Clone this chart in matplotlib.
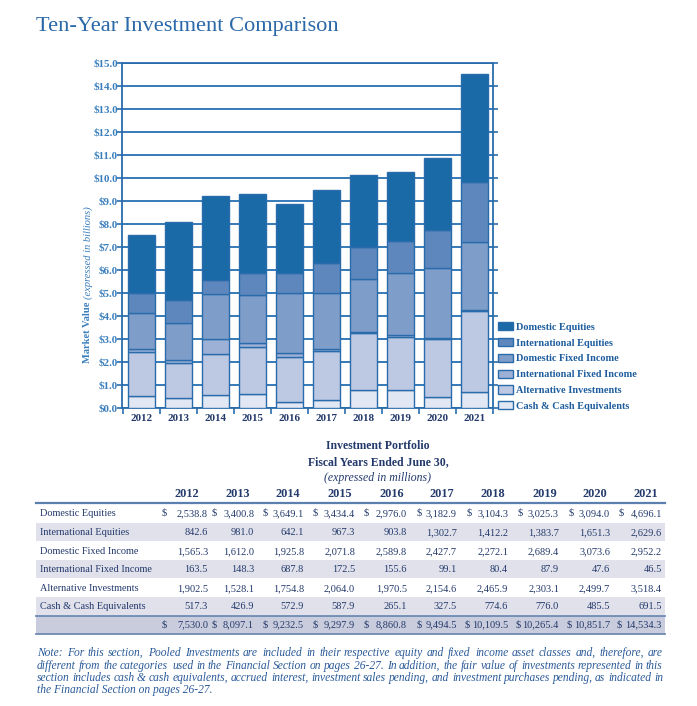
import matplotlib
matplotlib.use("Agg")
import matplotlib.pyplot as plt
from matplotlib.patches import Rectangle, Patch
from matplotlib.lines import Line2D
import numpy as np

years = ["2012", "2013", "2014", "2015", "2016", "2017", "2018", "2019", "2020", "2021"]
categories = ["Domestic Equities", "International Equities", "Domestic Fixed Income",
              "International Fixed Income", "Alternative Investments", "Cash & Cash Equivalents"]
domestic_equities = [2538.8, 3400.8, 3649.1, 3434.4, 2976.0, 3182.9, 3104.3, 3025.3, 3094.0, 4696.1]
international_equities = [842.6, 981.0, 642.1, 967.3, 903.8, 1302.7, 1412.2, 1383.7, 1651.3, 2629.6]
domestic_fixed_income = [1565.3, 1612.0, 1925.8, 2071.8, 2589.8, 2427.7, 2272.1, 2689.4, 3073.6, 2952.2]
international_fixed_income = [163.5, 148.3, 687.8, 172.5, 155.6, 99.1, 80.4, 87.9, 47.6, 46.5]
alternative_investments = [1902.5, 1528.1, 1754.8, 2064.0, 1970.5, 2154.6, 2465.9, 2303.1, 2499.7, 3518.4]
cash_equivalents = [517.3, 426.9, 572.9, 587.9, 265.1, 327.5, 774.6, 776.0, 485.5, 691.5]
totals = [7530.0, 8097.1, 9232.5, 9297.9, 8860.8, 9494.5, 10109.5, 10265.4, 10851.7, 14534.3]
y_ticks = [0, 1, 2, 3, 4, 5, 6, 7, 8, 9, 10, 11, 12, 13, 14, 15]

series = [domestic_equities, international_equities, domestic_fixed_income,
          international_fixed_income, alternative_investments, cash_equivalents]
colors = ["#1b6aa8", "#5d87bd", "#7f9dc9", "#9db1d7", "#bdc9e3", "#e1e7f3"]
edge = "#2a6cab"
blue_text = "#3a7fbd"
navy = "#23396b"

W, H = 697, 706
fig = plt.figure(figsize=(W / 100, H / 100), dpi=100)

def fx(px):
    return px / W

def fy(py):
    return 1 - py / H

serif = "Liberation Serif"

# Title
fig.text(fx(36), fy(27), "Ten-Year Investment Comparison", fontsize=16.1, family=serif,
         color="#2a68a8", ha="left", va="center")

# Chart axes
ax = fig.add_axes([fx(122), fy(408), fx(493) - fx(122), (408 - 63) / H])
x = np.arange(len(years))
bottom = np.zeros(len(years))
for vals, col in zip(series[::-1], colors[::-1]):
    v = np.array(vals) / 1000.0
    ax.bar(x, v, width=0.73, bottom=bottom, color=col, edgecolor=edge, linewidth=1.0, zorder=3)
    bottom += v

ax.set_ylim(0, 15)
ax.set_xlim(-0.54, 9.49)
ax.set_yticks(y_ticks)
ax.set_yticklabels([f"${t:.1f}" for t in y_ticks], family=serif, fontweight="bold",
                   fontsize=7.9, color=blue_text)
ax.set_xticks(x)
ax.set_xticklabels(years, family=serif, fontweight="bold", fontsize=7.9, color=navy)
ax.set_xticks(np.arange(-0.5, 9.6, 1.0), minor=True)
ax.tick_params(axis="x", which="major", length=0, pad=4)
ax.tick_params(axis="x", which="minor", length=4, color=edge, width=1.2, direction="out")
ax.tick_params(axis="y", which="major", length=3.5, color=edge, width=1.2, direction="out",
               right=True, pad=-0.5)
ax.yaxis.grid(True, color="#2570b2", linewidth=1.3, zorder=0)
ax.set_axisbelow(True)
for s in ax.spines.values():
    s.set_color(edge)
    s.set_linewidth(1.3)

# Y label: bold + italic parts
lab1 = fig.text(fx(88), fy(363), "Market Value", rotation=90, rotation_mode="anchor",
                ha="left", va="center", family=serif, fontweight="bold", fontsize=7.6,
                color=blue_text)
fig.canvas.draw()
renderer = fig.canvas.get_renderer()
bb = lab1.get_window_extent(renderer)
top_px = H - bb.y1
fig.text(fx(88), fy(top_px - 3), "(expressed in billions)", rotation=90, rotation_mode="anchor",
         ha="left", va="center", family=serif, style="italic", fontsize=7.6, color=blue_text)

# Legend
handles = [Patch(facecolor=c, edgecolor=edge, linewidth=1.0) for c in colors]
leg = fig.legend(handles, categories, loc="lower left",
                 bbox_to_anchor=(fx(496), fy(413)), frameon=False,
                 prop={"family": serif, "weight": "bold", "size": 7.4},
                 handlelength=1.45, handleheight=0.85, handletextpad=0.25,
                 labelspacing=0.6, borderaxespad=0, borderpad=0.2)
for t in leg.get_texts():
    t.set_color("#1d5d9e")

# Table
fig.text(fx(378), fy(446), "Investment Portfolio", family=serif, fontweight="bold",
         fontsize=8.5, color=navy, ha="center", va="center")
fig.text(fx(378), fy(462), "Fiscal Years Ended June 30,", family=serif, fontweight="bold",
         fontsize=8.5, color=navy, ha="center", va="center")
fig.text(fx(378), fy(478), "(expressed in millions)", family=serif, style="italic",
         fontsize=8.5, color=navy, ha="center", va="center")

col_ends = [208, 254, 304, 355, 407, 457, 508, 559, 610, 662]
dollar_x = [162, 212, 263, 313, 364, 417, 467, 518, 569, 619]
year_centers = [187, 238, 288, 340, 392, 442, 493, 545, 595, 646]
for yc, yr in zip(year_centers, years):
    fig.text(fx(yc), fy(494), yr, family=serif, fontweight="bold", fontsize=8.8,
             color=navy, ha="center", va="center")

tab_left, tab_right = 36, 665
fig.add_artist(Line2D([fx(tab_left), fx(tab_right)], [fy(503), fy(503)],
                      color="#5b7fae", linewidth=1.6))

num_fs = 7.5
base_off = 3  # baseline offset below row centre, px
row_h = 18.5
row_y = [513, 532, 551, 569, 588, 606]
for i, (name, vals, yc) in enumerate(zip(categories, series, row_y)):
    if i % 2 == 1:
        fig.add_artist(Rectangle((fx(tab_left), fy(yc + row_h / 2)), fx(tab_right) - fx(tab_left),
                                 row_h / H, facecolor="#e0e1eb", edgecolor="none", zorder=0))
    yb = fy(yc + base_off)
    fig.text(fx(40), yb, name, family=serif, fontsize=7.4, color=navy,
             ha="left", va="baseline")
    for j, v in enumerate(vals):
        fig.text(fx(col_ends[j]), yb, f"{v:,.1f}", family=serif, fontsize=num_fs,
                 color=navy, ha="right", va="baseline")
        if i == 0:
            fig.text(fx(dollar_x[j]), yb, "$", family=serif, fontsize=num_fs,
                     color=navy, ha="left", va="baseline")

# Totals row
ty = 624
fig.add_artist(Rectangle((fx(tab_left), fy(634)), fx(tab_right) - fx(tab_left),
                         18 / H, facecolor="#c9ccdc", edgecolor="none", zorder=0))
for yl in (616, 634):
    fig.add_artist(Line2D([fx(tab_left), fx(tab_right)], [fy(yl), fy(yl)],
                          color="#6d8ab3", linewidth=1.3))
for j, v in enumerate(totals):
    fig.text(fx(col_ends[j]), fy(ty + base_off), f"{v:,.1f}", family=serif, fontsize=num_fs,
             color=navy, ha="right", va="baseline")
    fig.text(fx(dollar_x[j] - (2 if v >= 10000 else 0)), fy(ty + base_off), "$", family=serif,
             fontsize=num_fs, color=navy, ha="left", va="baseline")

# Note (justified lines)
note_lines = [
    "Note: For this section, Pooled Investments are included in their respective equity and fixed income asset classes and, therefore, are",
    "different from the categories used in the Financial Section on pages 26-27. In addition, the fair value of investments represented in this",
    "section includes cash & cash equivalents, accrued interest, investment sales pending, and investment purchases pending, as indicated in",
    "the Financial Section on pages 26-27.",
]
note_base = [656, 669, 681, 693]
note_kw = dict(family=serif, style="italic", fontsize=8.3, color="#2a5a98", va="baseline")
left_px, right_px = 37, 663
for k, line in enumerate(note_lines):
    ypos = fy(note_base[k])
    if k == len(note_lines) - 1:
        fig.text(fx(left_px), ypos, line, ha="left", **note_kw)
        continue
    words = line.split(" ")
    arts = [fig.text(0, ypos, w_, ha="left", **note_kw) for w_ in words]
    widths = [a.get_window_extent(renderer).width for a in arts]
    gap = (right_px - left_px - sum(widths)) / (len(words) - 1)
    cur = left_px
    for a, wd in zip(arts, widths):
        a.set_x(fx(round(cur)))
        cur += wd + gap

fig.savefig("out.png", dpi=100)
